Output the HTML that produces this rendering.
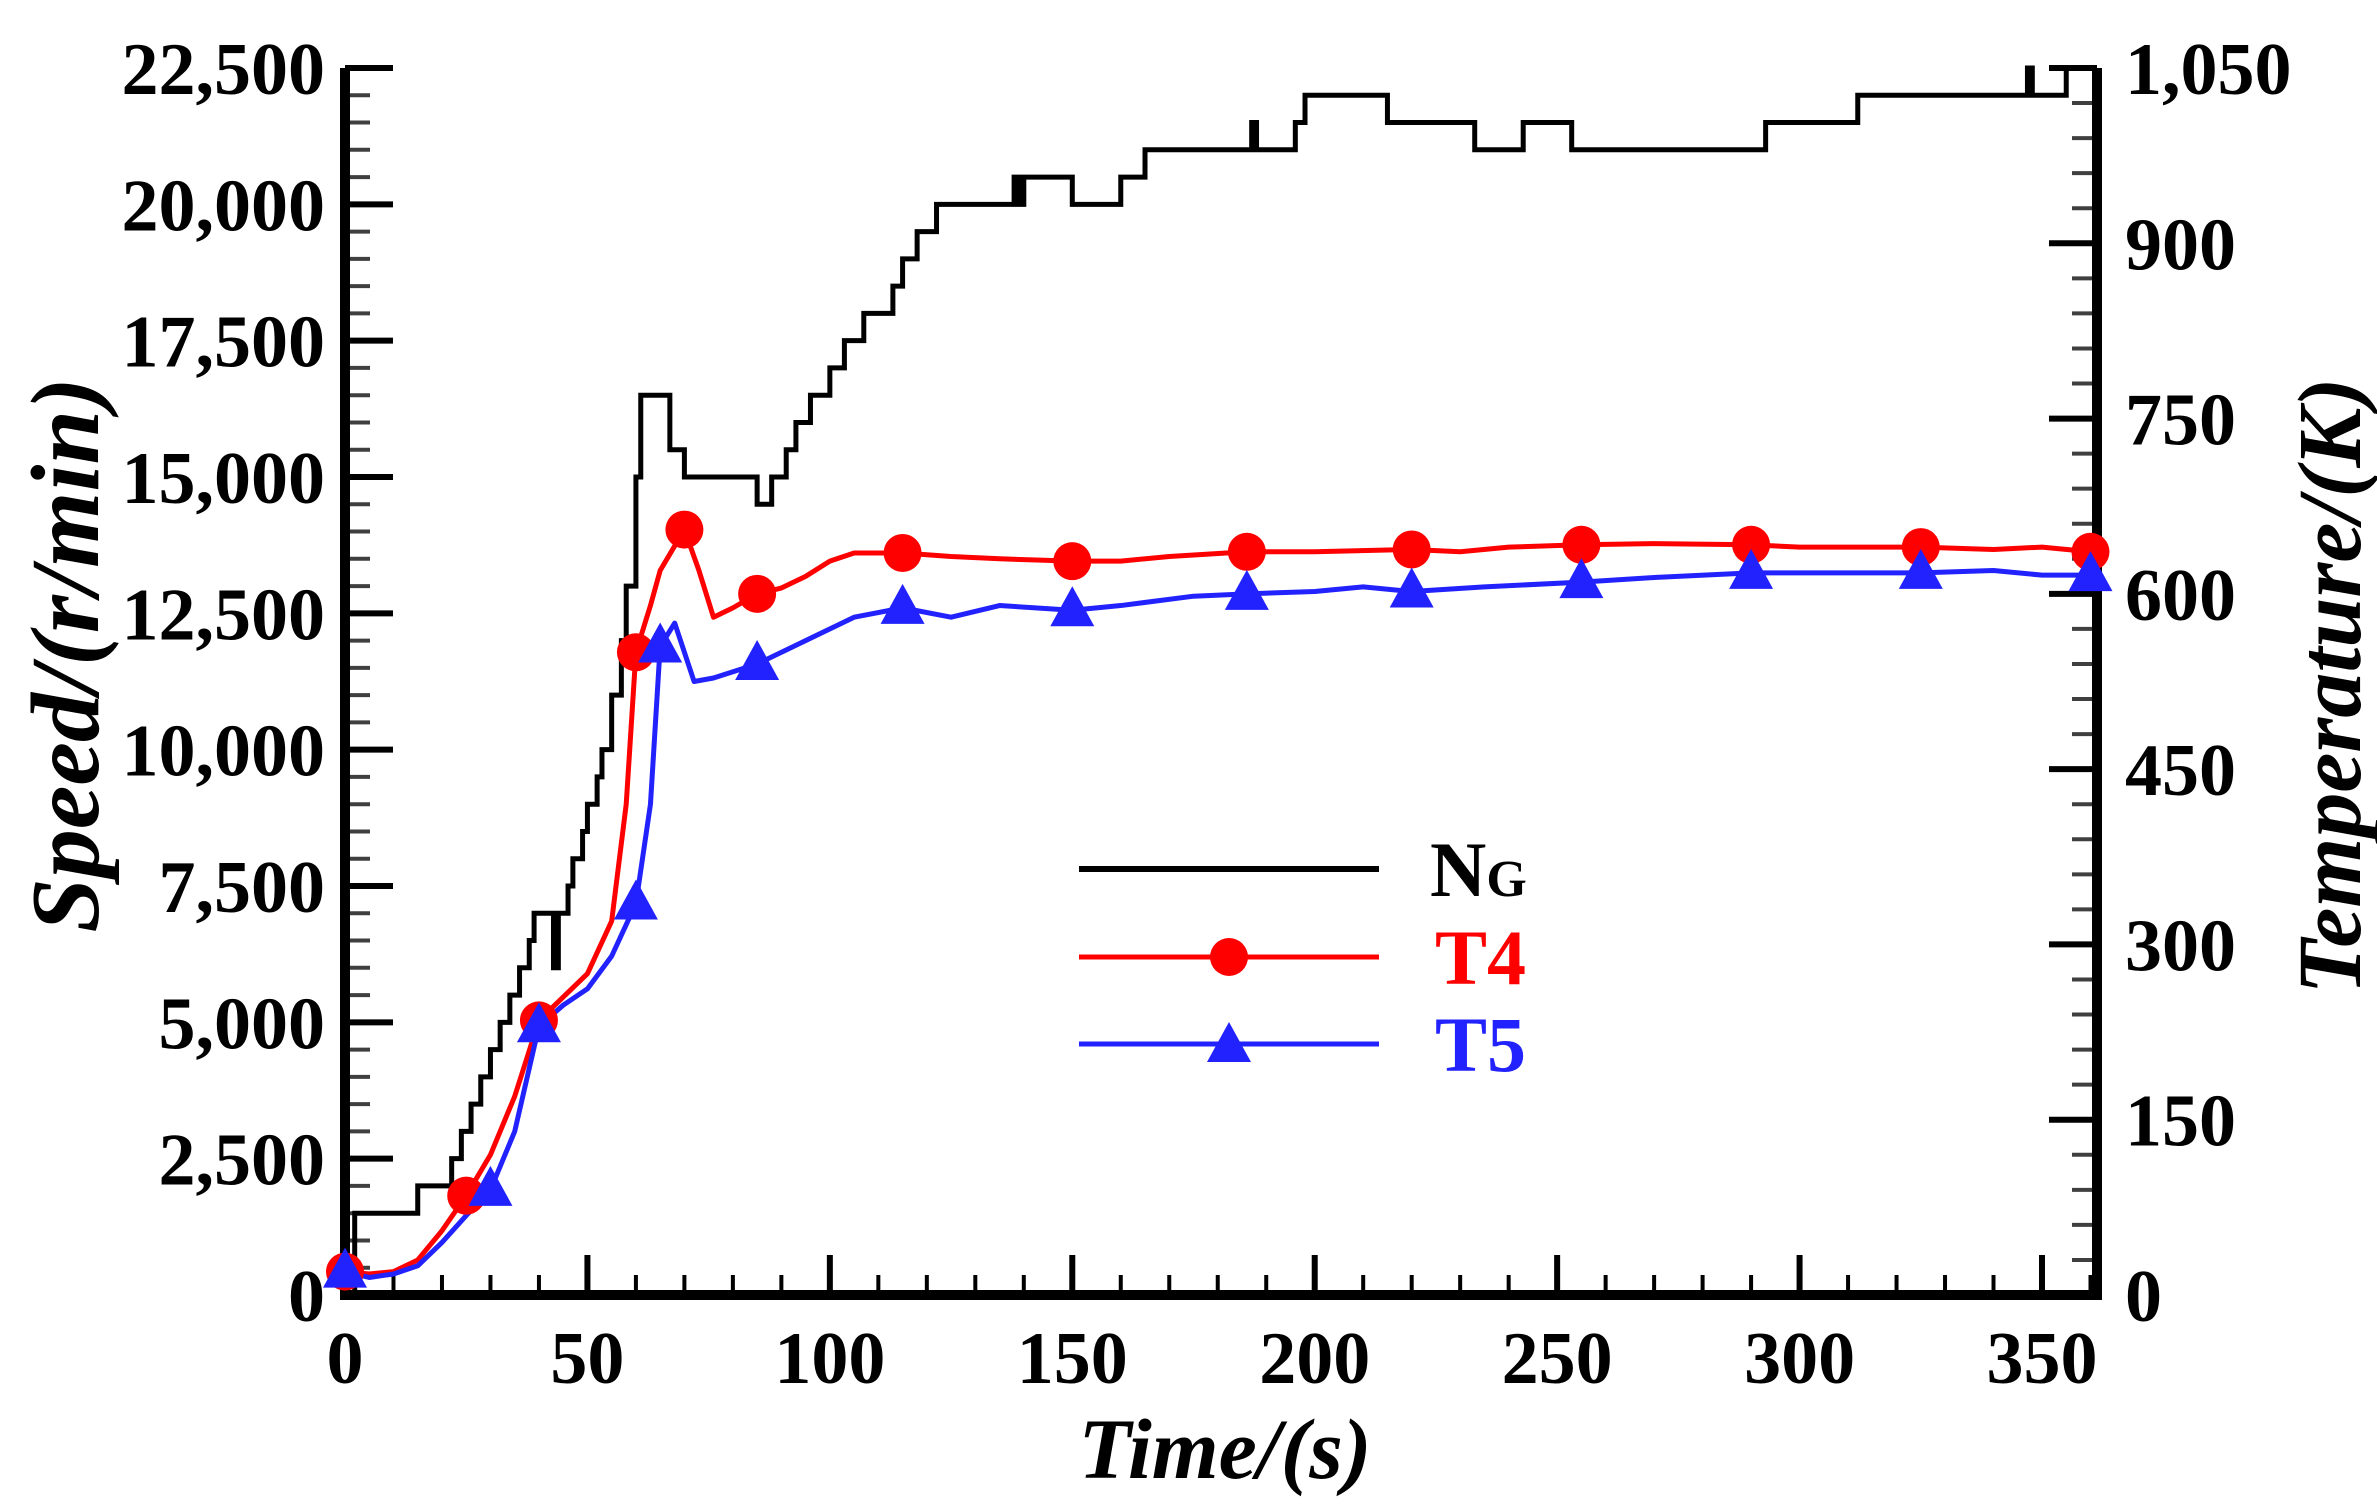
<!DOCTYPE html>
<html><head><meta charset="utf-8"><style>
html,body{margin:0;padding:0;background:#fff}
svg{display:block}
text{font-family:"Liberation Serif",serif;font-weight:bold}
</style></head><body>
<svg id="chart" width="2377" height="1506" viewBox="0 0 2377 1506" xmlns="http://www.w3.org/2000/svg">
<g id="axes"></g>
<g id="series"></g>
<text x="1225" y="1478" font-size="86" font-style="italic" text-anchor="middle">Time/(s)</text>
<text transform="translate(98,655) rotate(-90)" font-size="98" font-style="italic" text-anchor="middle">Speed/(r/min)</text>
<text transform="translate(2360,686) rotate(-90)" font-size="90" font-style="italic" text-anchor="middle">Temperature/(K)</text>
<g>
<line x1="1079" y1="869" x2="1379" y2="869" stroke="#000" stroke-width="6"/>
<text x="1430" y="896" font-size="78">N<tspan font-size="52">G</tspan></text>
<line x1="1079" y1="957" x2="1379" y2="957" stroke="#f00" stroke-width="5"/>
<circle cx="1229" cy="957" r="19" fill="#f00"/>
<text x="1435" y="984" font-size="78" fill="#f00">T4</text>
<line x1="1079" y1="1044" x2="1379" y2="1044" stroke="#22f" stroke-width="5"/>
<polygon points="1229,1022 1251,1062 1207,1062" fill="#22f"/>
<text x="1435" y="1071" font-size="78" fill="#22f">T5</text>
</g>
</svg>
<script>
const ngTime=[0,2,15,22,24,26,28,30,32,34,36,38,39,40,43,44,46,47,49,50,52,53,55,57,58,60,61,65,67,70,85,88,91,93,96,100,103,107,113,115,118,122,138,139,140,150,160,165,187,188,196,198,215,233,243,253,293,312,347,348,355,361];
const ngSpeed=[0,1500,2000,2500,3000,3500,4000,4500,5000,5500,6000,6500,7000,7000,6000,7000,7500,8000,8500,9000,9500,10000,11000,12000,13000,15000,16500,16500,15500,15000,14500,15000,15500,16000,16500,17000,17500,18000,18500,19000,19500,20000,20500,20000,20500,20000,20500,21000,21500,21000,21500,22000,21500,21000,21500,21000,21500,22000,22500,22000,22500,22500];
const t4Time=[0,5,10,15,20,25,30,35,40,45,50,55,58,60,63,65,70,73,76,80,85,90,95,100,105,115,125,135,150,160,170,186,200,220,230,240,255,270,290,300,325,340,350,360];
const t4Temp=[20,18,20,30,55,85,120,170,235,255,275,320,420,550,590,620,655,620,580,588,600,605,615,628,635,635,632,630,628,628,632,636,636,638,636,640,642,643,642,640,640,638,640,636];
const t4MarkerTime=[0,25,40,60,70,85,115,150,186,220,255,290,325,360];
const t5Time=[0,5,10,15,20,25,30,35,40,45,50,55,60,63,65,68,72,76,85,95,105,115,125,135,150,160,175,186,200,210,220,235,255,270,290,310,325,340,350,360];
const t5Temp=[20,15,18,25,45,68,90,140,230,248,262,290,335,420,555,575,525,528,540,560,580,588,580,590,586,590,598,600,602,606,602,606,610,614,618,618,618,620,616,616];
const t5MarkerTime=[0,30,40,60,65,85,115,150,186,220,255,290,325,360];
const xTicks=[0,50,100,150,200,250,300,350];
const leftTicks=[0,2500,5000,7500,10000,12500,15000,17500,20000,22500];
const leftTickLabels=["0","2,500","5,000","7,500","10,000","12,500","15,000","17,500","20,000","22,500"];
const rightTicks=[0,150,300,450,600,750,900,1050];
const rightTickLabels=["0","150","300","450","600","750","900","1,050"];

const L=345,R=2097,T=68,B=1295,X0=345,X350=2042;
const xs=t=>X0+(X350-X0)*t/350;
const yl=v=>B-(B-T)*v/22500;
const yr=v=>B-(B-T)*v/1050;
const NS='http://www.w3.org/2000/svg';
function mk(tag,attrs,parent){const e=document.createElementNS(NS,tag);for(const k in attrs)e.setAttribute(k,attrs[k]);parent.appendChild(e);return e;}
const ax=document.getElementById('axes'),se=document.getElementById('series');
let fr=mk('path',{d:`M${L},${T} V${B} H${R} V${T}`,fill:'none',stroke:'#000','stroke-width':10},ax);


for(let t=0;t<=360;t+=10){const major=t%50===0;const x=xs(t);
 let l=mk('line',{x1:x,y1:B,x2:x,y2:B-(major?40:20),stroke:'#000','stroke-width':major?6:4},ax);
 
 }
xTicks.forEach(t=>{let tx=mk('text',{x:xs(t),y:1383,'font-size':74,'text-anchor':'middle'},ax);tx.textContent=String(t);
 
 });
for(let v=0;v<=22500;v+=500){const major=v%2500===0;const y=yl(v);
 let l=mk('line',{x1:L,y1:y,x2:L+(major?48:25),y2:y,stroke:'#000','stroke-width':major?6:4,opacity:major?1:0.75},ax);
 
 }
leftTicks.forEach((v,i)=>{let tx=mk('text',{x:325,y:yl(v)+26,'font-size':74,'text-anchor':'end'},ax);tx.textContent=leftTickLabels[i];
 
 });
for(let v=0;v<=1050;v+=30){const major=v%150===0;const y=yr(v);
 let l=mk('line',{x1:R,y1:y,x2:R-(major?48:25),y2:y,stroke:'#000','stroke-width':major?6:4,opacity:major?1:0.75},ax);
 
 }
rightTicks.forEach((v,i)=>{let tx=mk('text',{x:2125,y:yr(v)+26,'font-size':74,'text-anchor':'start'},ax);tx.textContent=rightTickLabels[i];
 
 });
let d='';ngTime.forEach((t,i)=>{const x=xs(t),y=yl(ngSpeed[i]);if(i===0)d+=`M${x},${y}`;else d+=` H${x} V${y}`;});
let ng=mk('path',{d:d,fill:'none',stroke:'#000','stroke-width':5},se);


function interp(ts,vs,t){for(let i=1;i<ts.length;i++){if(t<=ts[i]){const f=(t-ts[i-1])/(ts[i]-ts[i-1]);return vs[i-1]+f*(vs[i]-vs[i-1]);}}return vs[vs.length-1];}
let p4=mk('polyline',{points:t4Time.map((t,i)=>xs(t)+','+yr(t4Temp[i])).join(' '),fill:'none',stroke:'#f00','stroke-width':5,'stroke-linejoin':'round'},se);


let p5=mk('polyline',{points:t5Time.map((t,i)=>xs(t)+','+yr(t5Temp[i])).join(' '),fill:'none',stroke:'#22f','stroke-width':5,'stroke-linejoin':'round'},se);


t4MarkerTime.forEach(t=>{let c=mk('circle',{cx:xs(t),cy:yr(interp(t4Time,t4Temp,t)),r:19,fill:'#f00'},se);
 
 });
t5MarkerTime.forEach(t=>{const x=xs(t),y=yr(interp(t5Time,t5Temp,t));
 let p=mk('polygon',{points:`${x},${y-24} ${x+22},${y+16} ${x-22},${y+16}`,fill:'#22f'},se);
 
 });
</script>
</body></html>
